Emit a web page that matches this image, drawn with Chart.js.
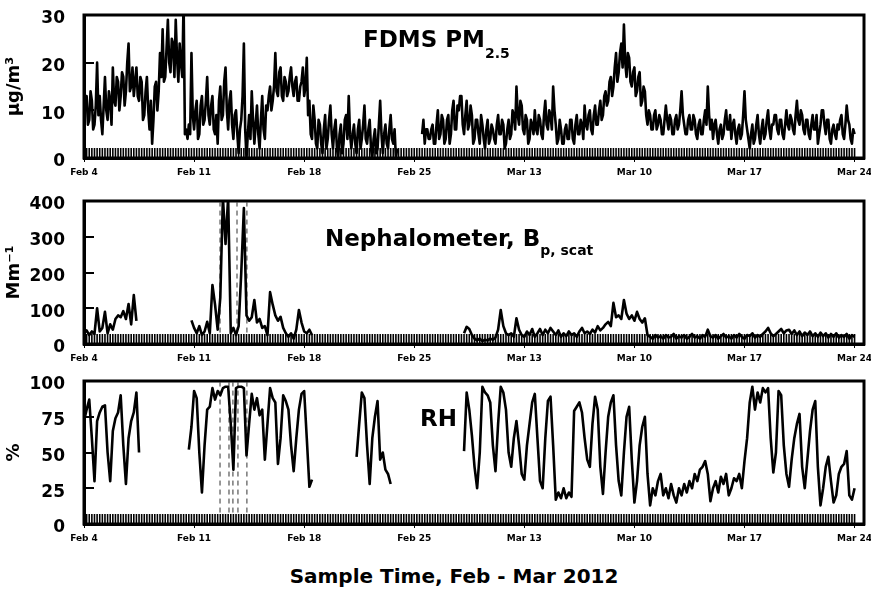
<!DOCTYPE html>
<html>
<head>
<meta charset="utf-8">
<script src="https://cdn.jsdelivr.net/npm/chart.js@4.4.1/dist/chart.umd.min.js"></script>
<style>
  body { margin: 0; background: #fff; }
  #wrap { position: relative; width: 871px; height: 591px; font-family: "DejaVu Sans", sans-serif; }
  canvas { position: absolute; left: 0; }
  .lab { position: absolute; font-weight: bold; color: #000; white-space: nowrap; line-height: 1; }
  .sub { position: relative; font-size: 14px; }
</style>
</head>
<body>
<div id="wrap">
  <canvas id="c1" width="871" height="180" style="top:0"></canvas>
  <canvas id="c2" width="871" height="180" style="top:186px"></canvas>
  <canvas id="c3" width="871" height="180" style="top:366px"></canvas>
  <div class="lab" style="left:363px;top:28px;font-size:23px">FDMS PM<span class="sub" style="top:11px">2.5</span></div>
  <div class="lab" style="left:325px;top:227px;font-size:23px">Nephalometer, B<span class="sub" style="top:9px">p, scat</span></div>
  <div class="lab" style="left:420px;top:407px;font-size:23px">RH</div>
  <div class="lab" style="left:0;width:908px;text-align:center;top:566px;font-size:20px">Sample Time, Feb - Mar 2012</div>
</div>
<script>
// x is in days since Feb 4
const PM_STEP = 1 / 12 // 2-hour samples
const STEP = 1 / 6 // 4-hour samples
const tickDays = [0, 7, 14, 21, 28, 35, 42, 49]
const tickLabels = ["Feb 4", "Feb 11", "Feb 18", "Feb 25", "Mar 13", "Mar 10", "Mar 17", "Mar 24"]

// FDMS PM2.5, ug/m3, one row per day
const pm25 = [
	9, 12, 13, 7, 8, 14, 12, 6, 7, 11, 20, 9,
	13, 8, 5, 11, 17, 10, 8, 14, 12, 7, 19, 12,
	11, 17, 16, 10, 13, 18, 17, 11, 14, 20, 24, 14,
	15, 19, 13, 16, 19, 13, 12, 17, 16, 8, 9, 14,
	17, 10, 6, 12, 3, 8, 15, 16, 10, 14, 22, 17,
	27, 16, 17, 23, 29, 20, 18, 25, 24, 17, 29, 21,
	16, 24, 20, 17, 33, 5, 6, 4, 7, 5, 22, 9,
	6, 10, 12, 4, 5, 11, 13, 7, 8, 12, 17, 9,
	7, 11, 13, 6, 5, 9, 3, 12, 15, 8, 9, 16,
	19, 10, 6, 12, 14, 7, 4, 9, 10, 5, 1, 6,
	8, 13, 24, 6, 0, 5, 9, 4, 14, 8, 3, 7,
	11, 5, 2, 8, 13, 6, 4, 11, 10, 13, 15, 10,
	12, 15, 22, 14, 13, 18, 19, 13, 12, 17, 16, 13,
	14, 17, 19, 15, 13, 16, 17, 12, 12, 15, 16, 19,
	13, 15, 21, 9, 12, 5, 4, 11, 8, 3, 2, 8,
	7, 3, 1, 6, 9, 2, 4, 8, 11, 5, 2, 6,
	8, 2, 0, 5, 7, 1, 3, 8, 9, 4, 13, 5,
	2, 5, 7, 3, 1, 6, 8, 2, 4, 7, 11, 4,
	3, 6, 8, 2, 0, 4, 6, 1, 2, 7, 12, 5,
	1, 5, 7, 3, 2, 6, 9, 4, 3, 6, 0, 2,
	null, null, null, null, null, null, null, null, null, null, null, null,
	null, null, null, null, null, null, 5, 8, 3, 6, 6, 4,
	4, 6, 7, 3, 3, 7, 10, 4, 5, 9, 8, 3,
	4, 8, 9, 3, 5, 10, 12, 6, 6, 11, 10, 13,
	13, 7, 5, 9, 12, 6, 7, 11, 9, 3, 4, 8,
	8, 5, 3, 9, 7, 4, 2, 6, 8, 3, 4, 7,
	6, 4, 3, 7, 9, 5, 5, 8, 7, 2, 3, 6,
	8, 4, 5, 10, 9, 6, 15, 9, 7, 12, 11, 6,
	5, 9, 8, 3, 4, 8, 7, 5, 10, 6, 5, 9,
	8, 5, 4, 9, 12, 7, 6, 10, 9, 6, 15, 10,
	7, 3, 4, 8, 6, 3, 3, 6, 7, 4, 4, 8,
	8, 4, 3, 7, 9, 5, 5, 8, 7, 4, 11, 7,
	6, 9, 10, 6, 5, 9, 11, 7, 7, 10, 12, 8,
	9, 13, 14, 11, 12, 16, 17, 13, 15, 19, 22, 16,
	18, 22, 24, 19, 28, 20, 17, 22, 21, 16, 15, 18,
	19, 13, 14, 17, 18, 11, 12, 15, 14, 9, 7, 10,
	9, 6, 6, 9, 10, 6, 7, 9, 8, 5, 5, 8,
	11, 8, 6, 9, 8, 5, 5, 8, 9, 6, 7, 10,
	14, 9, 7, 5, 5, 8, 9, 6, 6, 9, 8, 5,
	4, 7, 8, 5, 5, 8, 10, 7, 15, 9, 6, 8,
	4, 7, 8, 5, 3, 6, 7, 4, 5, 8, 10, 6,
	6, 9, 4, 7, 8, 5, 3, 6, 7, 4, 5, 9,
	14, 8, 6, 4, 2, 5, 7, 3, 4, 7, 9, 5,
	3, 6, 8, 4, 5, 8, 10, 6, 4, 7, 7, 9,
	9, 6, 5, 8, 8, 5, 4, 7, 10, 7, 6, 9,
	8, 6, 5, 9, 12, 8, 7, 10, 9, 6, 5, 8,
	8, 5, 4, 7, 9, 6, 6, 9, 3, 5, 7, 10,
	10, 7, 5, 8, 8, 4, 3, 6, 7, 5, 4, 7,
	6, 8, 9, 5, 4, 7, 11, 8, 7, 4, 3, 6,
	5,
]

// nephelometer scattering, Mm-1, one row per day
const neph = [
	30, 38, 25, 35, 28, 100,
	35, 45, 90, 30, 55, 40,
	70, 80, 75, 92, 70, 112,
	55, 137, 65, null, null, null,
	null, null, null, null, null, null,
	null, null, null, null, null, null,
	null, null, null, null, null, 66,
	45, 30, 50, 25, 35, 62,
	30, 165, 110, 40, 130, 410,
	280, 410, 30, 45, 25, 50,
	200, 380, 80, 65, 75, 123,
	60, 70, 45, 50, 25, 145,
	110, 80, 65, 76, 45, 30,
	20, 30, 15, 40, 95, 60,
	35, 30, 40, 25, null, null,
	null, null, null, null, null, null,
	null, null, null, null, null, null,
	null, null, null, null, null, null,
	null, null, null, null, null, null,
	null, null, null, null, null, null,
	null, null, null, null, null, null,
	null, null, null, null, null, null,
	null, null, null, null, null, null,
	null, null, null, null, null, null,
	null, 30, 48, 42, 25, 15,
	10, 15, 8, 12, 10, 15,
	12, 18, 40, 95, 50, 30,
	25, 30, 20, 72, 40, 25,
	20, 35, 25, 42, 20, 30,
	42, 25, 40, 30, 45, 35,
	25, 38, 20, 30, 22, 35,
	25, 30, 20, 35, 45, 30,
	35, 28, 40, 32, 50, 38,
	45, 55, 62, 50, 115, 75,
	80, 70, 123, 85, 70, 80,
	65, 90, 70, 60, 72, 25,
	20, 15, 25, 18, 22, 15,
	25, 18, 20, 28, 15, 22,
	18, 25, 15, 20, 28, 18,
	22, 15, 25, 20, 40, 22,
	18, 25, 15, 22, 28, 18,
	22, 15, 25, 18, 28, 20,
	15, 25, 22, 30, 18, 25,
	20, 28, 35, 45, 30, 22,
	28, 35, 42, 30, 38, 40,
	28, 38, 25, 35, 22, 32,
	25, 35, 22, 30, 20, 32,
	22, 30, 18, 28, 20, 30,
	18, 25, 20, 28, 15, 25,
	20,
]

// relative humidity, %, one row per day
const rh = [
	72, 80, 87, 60, 30, 72,
	78, 82, 83, 50, 30, 65,
	74, 78, 90, 55, 28, 60,
	72, 78, 92, 50, null, null,
	null, null, null, null, null, null,
	null, null, null, null, null, null,
	null, null, null, null, 52, 68,
	93, 88, 50, 22, 55, 80,
	82, 95, 87, 93, 90, 95,
	96, 96, 70, 38, 95, 96,
	96, 95, 48, 70, 91, 80,
	88, 76, 80, 45, 70, 95,
	88, 85, 42, 60, 90, 86,
	80, 55, 37, 60, 80, 91,
	93, 60, 26, 31, null, null,
	null, null, null, null, null, null,
	null, null, null, null, null, null,
	null, null, 47, 70, 92, 88,
	55, 28, 60, 75, 86, 45,
	50, 38, 35, 28, null, null,
	null, null, null, null, null, null,
	null, null, null, null, null, null,
	null, null, null, null, null, null,
	null, null, null, null, null, null,
	null, 51, 92, 80, 62, 40,
	25, 50, 96, 92, 90, 85,
	55, 37, 70, 96, 92, 80,
	50, 40, 60, 72, 55, 35,
	31, 55, 70, 85, 91, 60,
	30, 25, 60, 86, 89, 55,
	17, 22, 18, 25, 18, 22,
	19, 79, 82, 85, 78, 60,
	45, 40, 70, 89, 80, 40,
	21, 50, 75, 85, 90, 55,
	30, 20, 50, 75, 82, 45,
	15, 30, 55, 68, 75, 35,
	13, 25, 20, 30, 35, 20,
	25, 18, 28, 20, 15, 25,
	20, 28, 22, 30, 25, 35,
	30, 38, 40, 44, 35, 16,
	25, 30, 22, 33, 28, 35,
	20, 25, 32, 30, 35, 25,
	44, 60, 85, 96, 80, 92,
	85, 95, 92, 95, 60, 36,
	50, 93, 90, 55, 35, 26,
	45, 60, 70, 77, 40, 25,
	45, 65, 80, 86, 40, 13,
	25, 40, 47, 30, 15, 20,
	35, 40, 42, 51, 20, 17,
	25,
]

// event markers (dashed lines), days since Feb 4
const nephEvents = [8.65, 9.73, 10.36]
const rhEvents = [8.65, 9.22, 9.47, 9.79, 10.36]

const bold = (size) => ({ family: "DejaVu Sans", weight: "bold", size: size })

// box around plot + comb of 4-hour minor ticks along the bottom
const frame = {
	id: "frame",
	beforeDatasetsDraw(chart) {
		const { ctx, chartArea: a, scales } = chart
		ctx.save()
		ctx.fillStyle = "#000"
		for (let i = 0; i <= 294; i++) {
			const px = scales.x.getPixelForValue(i * STEP)
			ctx.fillRect(px - 0.8, a.bottom - 10, 1.6, 10)
		}
		ctx.restore()
	},
	afterDraw(chart) {
		const { ctx, chartArea: a } = chart
		ctx.save()
		ctx.lineWidth = 3
		ctx.strokeStyle = "#000"
		ctx.strokeRect(a.left, a.top, a.right - a.left, a.bottom - a.top)
		ctx.restore()
	},
}

// keep the plot box where it is in the original, whatever the labels need
const noPad = (s) => {
	s.paddingTop = 0
	s.paddingBottom = 0
	s.paddingLeft = 0
	s.paddingRight = 0
}

function panel(id, values, step, yMax, yStep, yTitle, events) {
	const datasets = [
		{
			data: values.map((v, i) => ({ x: i * step, y: v })),
			borderColor: "#000",
			borderWidth: 2.6,
			borderJoinStyle: "round",
			pointRadius: 0,
		},
	]
	events.forEach((e) => {
		datasets.push({
			data: [{ x: e, y: yMax * 0.08 }, { x: e, y: yMax * 0.99 }],
			borderColor: "#333",
			borderWidth: 1,
			borderDash: [5, 4],
			pointRadius: 0,
		})
	})

	new Chart(document.getElementById(id), {
		type: "line",
		data: { datasets },
		options: {
			responsive: false,
			animation: false,
			layout: { padding: { top: 15, right: 7 } },
			plugins: { legend: { display: false }, tooltip: { enabled: false } },
			scales: {
				x: {
					type: "linear",
					min: 0,
					max: 49.6,
					afterBuildTicks: (s) => { s.ticks = tickDays.map((v) => ({ value: v })) },
					afterFit: (s) => { s.height = 22; noPad(s) },
					ticks: {
						callback: (v) => tickLabels[tickDays.indexOf(v)],
						font: bold(9),
						color: "#000",
						padding: 5,
						maxRotation: 0,
						autoSkip: false,
					},
					grid: { drawOnChartArea: false, tickLength: 4, color: "#000", lineWidth: 1 },
					border: { color: "#000", width: 3 },
				},
				y: {
					min: 0,
					max: yMax,
					afterFit: (s) => { s.width = 84; noPad(s) },
					ticks: { stepSize: yStep, font: bold(17), color: "#000", padding: 29, labelOffset: 4 },
					grid: { drawOnChartArea: false, tickLength: -10, color: "#000", lineWidth: 2 },
					border: { color: "#000", width: 3 },
					title: { display: true, text: yTitle, font: bold(18), color: "#000", padding: { top: 4, bottom: 0 } },
				},
			},
		},
		plugins: [frame],
	})
}

panel("c1", pm25, PM_STEP, 30, 10, "µg/m³", [])
panel("c2", neph, STEP, 400, 100, "Mm⁻¹", nephEvents)
panel("c3", rh, STEP, 100, 25, "%", rhEvents)
</script>
</body>
</html>
